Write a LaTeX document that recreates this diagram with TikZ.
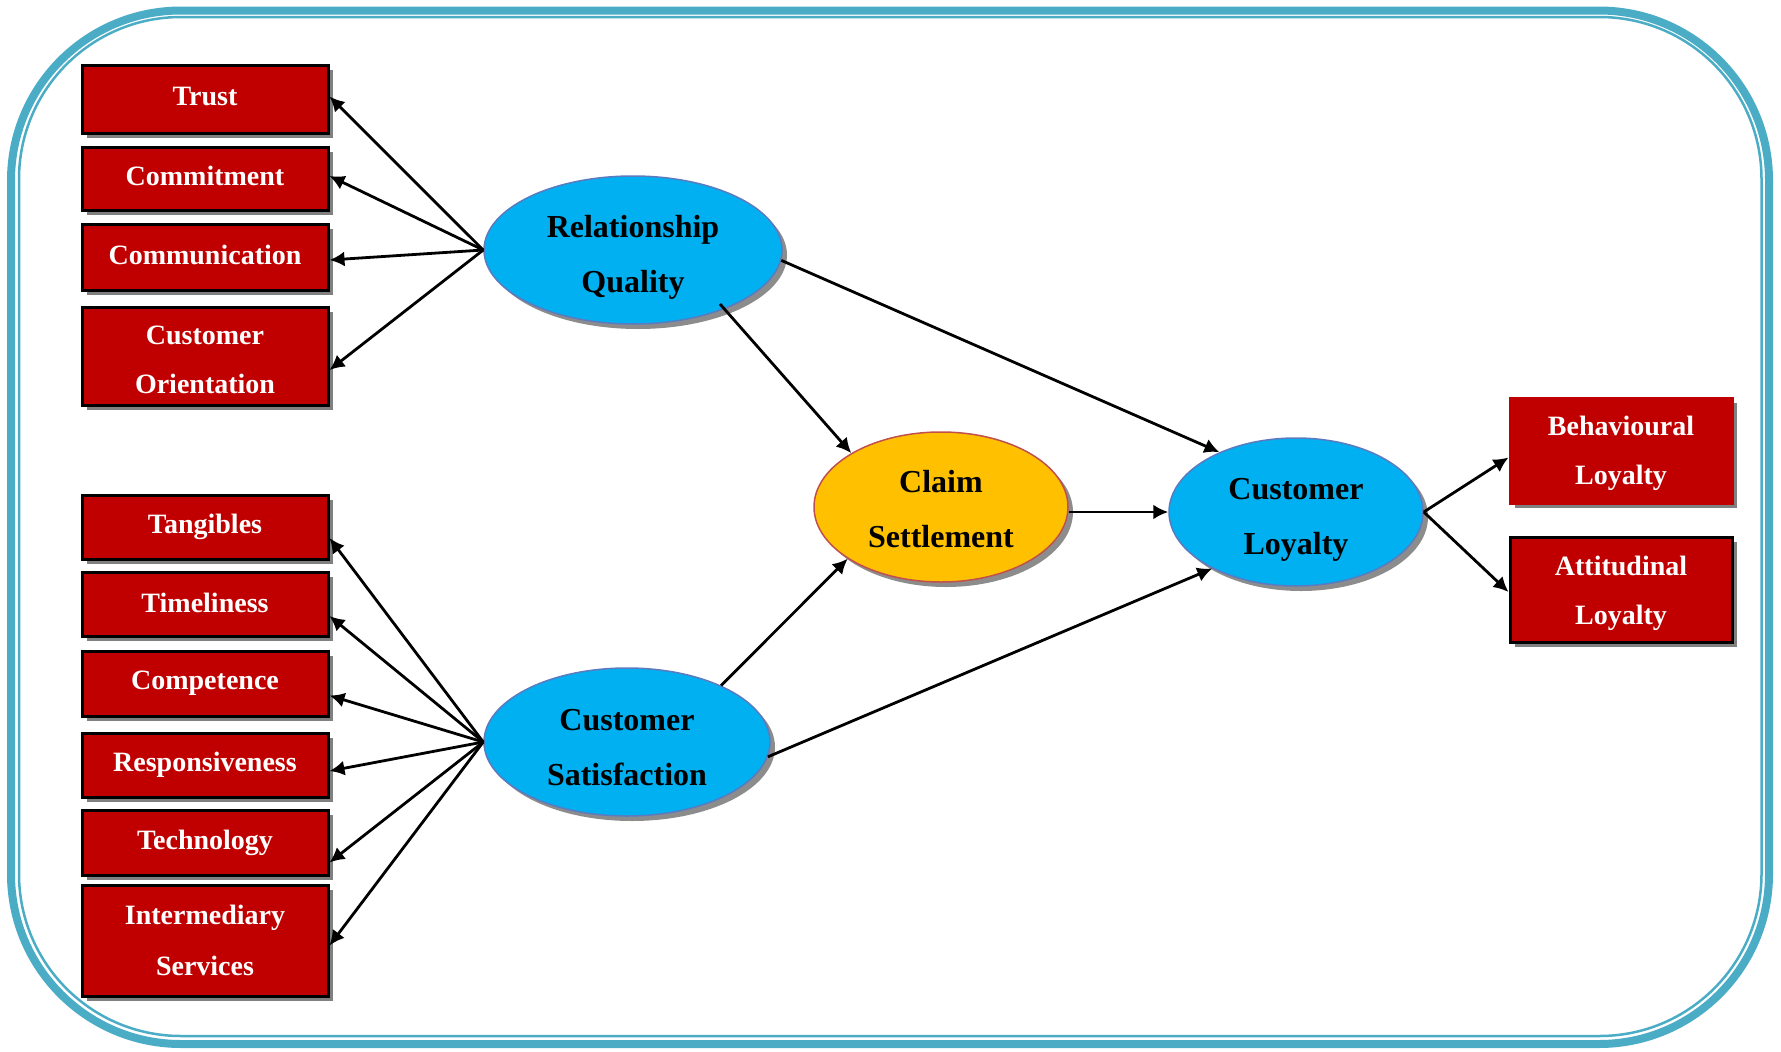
\documentclass[tikz,border=0pt]{standalone}
\usepackage{fontspec}
\setmainfont{Liberation Serif}
\usetikzlibrary{shapes.geometric,shadows,arrows.meta,calc}
\definecolor{framecol}{HTML}{4BACC6}
\definecolor{boxred}{HTML}{C00000}
\definecolor{skyblue}{HTML}{00B0F0}
\definecolor{ovalline}{HTML}{5B7BC0}
\definecolor{gold}{HTML}{FFC000}
\definecolor{goldline}{HTML}{C0504D}
\definecolor{shade}{HTML}{808080}
% strut that lowers the first line of a node text
\newcommand{\firstline}[1]{\rule{0pt}{#1}}
\begin{document}
\begin{tikzpicture}[x=1pt,y=-1pt,
  dim/.style={rectangle, draw=black, line width=3pt, fill=boxred, text=white,
    font=\fontsize{28}{49}\selectfont\bfseries, align=center,
    minimum width=246pt, inner sep=0pt,
    drop shadow={shadow xshift=5pt, shadow yshift=-5pt, fill=shade, opacity=1}},
  construct/.style={ellipse, draw=ovalline, line width=1.5pt, fill=skyblue,
    font=\fontsize{32}{55}\selectfont\bfseries, align=center, inner sep=0pt,
    drop shadow={shadow xshift=5pt, shadow yshift=-5pt, fill=shade, opacity=0.9}},
  link/.style={line width=2.8pt, -{Latex[length=15pt,width=15pt]}}
]
\useasboundingbox (0,0) rectangle (1781,1052);

% double rounded frame
\draw[framecol, line width=8pt, rounded corners=170pt] (11,10.5) rectangle (1769,1044);
\draw[framecol, line width=2.5pt, rounded corners=162pt] (19,17) rectangle (1761.5,1036);

% relationship quality dimensions
\node[dim, minimum height=68pt] (trust)  at (205,99)    {\raisebox{5pt}{Trust}};
\node[dim, minimum height=63pt] (commit) at (205,178.5) {\raisebox{5pt}{Commitment}};
\node[dim, minimum height=66pt] (comm)   at (205,257)   {\raisebox{5pt}{Communication}};
\node[dim, minimum height=98pt] (orient) at (205,356)   {\firstline{26pt}Customer\\Orientation};

% customer satisfaction dimensions
\node[dim, minimum height=64pt]  (tang)   at (205,527)   {Tangibles};
\node[dim, minimum height=64pt]  (timel)  at (205,604)   {\raisebox{2pt}{Timeliness}};
\node[dim, minimum height=65pt]  (compet) at (205,683.5) {Competence};
\node[dim, minimum height=64pt]  (resp)   at (205,765)   {Responsiveness};
\node[dim, minimum height=65pt]  (tech)   at (205,842.5) {Technology};
\node[dim, minimum height=111pt] (inter)  at (205,940.5) {\raisebox{2pt}{Intermediary}\\Services};

% loyalty dimensions
\node[dim, draw=boxred, minimum width=222pt, minimum height=105pt] (behav) at (1621,450.5) {\firstline{26pt}Behavioural\\Loyalty};
\node[dim, minimum width=222pt, minimum height=105pt] (attit) at (1621,589.5) {\firstline{27pt}Attitudinal\\Loyalty};

% constructs
\node[construct, minimum width=298pt, minimum height=148pt] (rq) at (633,250) {\firstline{36pt}Relationship\\Quality};
\node[construct, minimum width=286pt, minimum height=148pt] (cs) at (627,742) {\firstline{32pt}Customer\\Satisfaction};
\node[construct, fill=gold, draw=goldline, minimum width=254pt, minimum height=150pt] (claim) at (941,507) {\firstline{27pt}Claim\\Settlement};
\node[construct, minimum width=254pt, minimum height=148pt] (cl) at (1296,512) {\firstline{36pt}Customer\\Loyalty};

% links to dimensions
\foreach \t/\o in {trust/-2.5, commit/-2.5, comm/3, orient/14}
  \draw[link] (rq.west) -- ($(\t.east)+(0,\o)$);
\foreach \t/\o in {tang/11, timel/12, compet/12, resp/6, tech/20, inter/5}
  \draw[link] (cs.west) -- ($(\t.east)+(0,\o)$);

% structural paths
\draw[link] ($(rq.center)+(87,54)$) -- (claim.149.8);
\draw[link] (rq.-4.3) -- (cl.142.6);
\draw[link] (cs.31.3) -- (claim.209.3);
\draw[link] (cs.-6.4) -- (cl.214);
\draw[link] (claim.east |- cl.west) -- (cl.west);
\draw[link] (cl.east) -- ($(behav.west)+(0,7)$);
\draw[link] (cl.east) -- ($(attit.west)+(0,2.5)$);
\end{tikzpicture}
\end{document}
